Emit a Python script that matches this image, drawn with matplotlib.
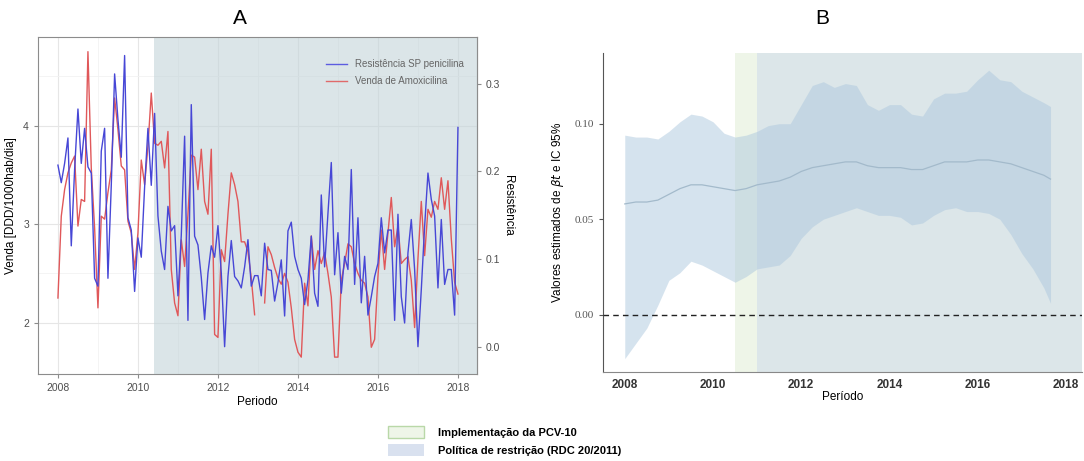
import numpy as np
import matplotlib
matplotlib.use("Agg")
import matplotlib.pyplot as plt
from matplotlib.patches import Patch
from matplotlib.lines import Line2D

plt.rcParams['font.family'] = ['Liberation Sans', 'DejaVu Sans']

# --- painel A: serie mensal 2008-01 .. 2018-01 ---
anos_mes = 2008 + np.arange(121) / 12

# venda de amoxicilina (DDD/1000hab/dia)
venda = [
    2.25, 3.08, 3.35, 3.52, 3.62, 3.69, 2.98, 3.25, 3.23, 4.75,
    3.57, 2.96, 2.15, 3.08, 3.05, 3.32, 3.55, 4.28, 3.96, 3.59,
    3.55, 3.03, 2.91, 2.54, 2.91, 3.65, 3.40, 3.79, 4.33, 3.82,
    3.80, 3.84, 3.57, 3.94, 2.54, 2.20, 2.07, 2.84, 2.57, 3.10,
    3.70, 3.68, 3.35, 3.76, 3.23, 3.10, 3.76, 1.88, 1.85, 2.74,
    2.62, 3.10, 3.52, 3.40, 3.23, 2.82, 2.82, 2.72, 2.45, 2.08,
    np.nan, np.nan, 2.20, 2.77, 2.69, 2.56, 2.45, 2.39, 2.50, 2.41,
    2.15, 1.83, 1.70, 1.65, 2.40, 2.17, 2.88, 2.54, 2.73, 2.60,
    2.71, 2.50, 2.26, 1.65, 1.65, 2.43, 2.60, 2.80, 2.77, 2.60,
    2.50, 2.43, 2.40, 2.26, 1.75, 1.83, 2.47, 2.94, 2.54, 2.91,
    3.27, 2.77, 2.98, 2.60, 2.64, 2.67, 2.43, 1.95, 2.65, 3.23,
    2.68, 3.15, 3.07, 3.23, 3.15, 3.47, 3.15, 3.44, 2.85, 2.41, 2.29,
]

# resistencia SP a penicilina (proporcao)
resist = [
    0.207, 0.187, 0.209, 0.238, 0.115, 0.202, 0.271, 0.209, 0.249, 0.205,
    0.198, 0.078, 0.069, 0.223, 0.249, 0.078, 0.184, 0.311, 0.259, 0.216,
    0.332, 0.147, 0.133, 0.063, 0.124, 0.102, 0.182, 0.249, 0.184, 0.266,
    0.149, 0.109, 0.088, 0.160, 0.132, 0.138, 0.058, 0.127, 0.240, 0.030,
    0.276, 0.126, 0.116, 0.079, 0.031, 0.084, 0.115, 0.102, 0.138, 0.084,
    0.000, 0.080, 0.121, 0.080, 0.075, 0.067, 0.091, 0.122, 0.069, 0.081,
    0.081, 0.058, 0.118, 0.088, 0.087, 0.052, 0.073, 0.099, 0.035, 0.132,
    0.142, 0.103, 0.088, 0.078, 0.048, 0.076, 0.126, 0.061, 0.046, 0.173,
    0.091, 0.152, 0.210, 0.082, 0.130, 0.061, 0.103, 0.088, 0.202, 0.071,
    0.147, 0.050, 0.103, 0.036, 0.057, 0.080, 0.095, 0.147, 0.107, 0.133,
    0.133, 0.030, 0.151, 0.057, 0.027, 0.107, 0.145, 0.088, 0.000, 0.065,
    0.137, 0.198, 0.168, 0.149, 0.067, 0.145, 0.071, 0.088, 0.088, 0.036, 0.250,
]

inicio_rdc = 2010.4

# escala secundaria: venda = a + b * resistencia
a_sec, b_sec = 1.756, 8.9

# --- painel B: coeficiente beta_t e IC 95% ---
anos_b = [2008.00, 2008.25, 2008.50, 2008.75, 2009.00, 2009.25, 2009.50, 2009.75,
          2010.00, 2010.25, 2010.50, 2010.75, 2011.00, 2011.25, 2011.50, 2011.75,
          2012.00, 2012.25, 2012.50, 2012.75, 2013.00, 2013.25, 2013.50, 2013.75,
          2014.00, 2014.25, 2014.50, 2014.75, 2015.00, 2015.25, 2015.50, 2015.75,
          2016.00, 2016.25, 2016.50, 2016.75, 2017.00, 2017.25, 2017.50, 2017.65]
beta_sup = [0.094, 0.093, 0.093, 0.092, 0.096, 0.101, 0.105, 0.104,
            0.101, 0.095, 0.093, 0.094, 0.096, 0.099, 0.100, 0.100,
            0.110, 0.120, 0.122, 0.119, 0.121, 0.120, 0.110, 0.107,
            0.110, 0.110, 0.105, 0.104, 0.113, 0.116, 0.116, 0.117,
            0.123, 0.128, 0.123, 0.122, 0.117, 0.114, 0.111, 0.109]
beta_med = [0.058, 0.059, 0.059, 0.060, 0.063, 0.066, 0.068, 0.068,
            0.067, 0.066, 0.065, 0.066, 0.068, 0.069, 0.070, 0.072,
            0.075, 0.077, 0.078, 0.079, 0.080, 0.080, 0.078, 0.077,
            0.077, 0.077, 0.076, 0.076, 0.078, 0.080, 0.080, 0.080,
            0.081, 0.081, 0.080, 0.079, 0.077, 0.075, 0.073, 0.071]
beta_inf = [-0.023, -0.015, -0.007, 0.005, 0.018, 0.022, 0.028, 0.026,
            0.023, 0.020, 0.017, 0.020, 0.024, 0.025, 0.026, 0.031,
            0.040, 0.046, 0.050, 0.052, 0.054, 0.056, 0.054, 0.052,
            0.052, 0.051, 0.047, 0.048, 0.052, 0.055, 0.056, 0.054,
            0.054, 0.053, 0.050, 0.042, 0.032, 0.024, 0.014, 0.006]

pcv10 = (2010.5, 2011.0)

cor_azul = '#4747d6'
cor_verm = '#e0585a'
cor_rdc = '#c3d4d9'
cor_pcv = '#eef5e8'
cinza = '#4d4d4d'

fig = plt.figure(figsize=(10.84, 4.61), dpi=100)

# ================= A =================
ax = fig.add_axes([0.035, 0.189, 0.405, 0.731])
ax.set_xlim(2007.5, 2018.475)
ax.set_ylim(1.48, 4.90)
ax.set_xticks([2008, 2010, 2012, 2014, 2016, 2018])
ax.set_xticks([2009, 2011, 2013, 2015, 2017], minor=True)
ax.set_yticks([2, 3, 4])
ax.set_yticks([2.5, 3.5, 4.5], minor=True)
ax.grid(True, which='major', color='#e6e6e6', lw=0.8)
ax.grid(True, which='minor', color='#f2f2f2', lw=0.6)
ax.set_axisbelow(True)
ax.axvspan(inicio_rdc, 2018.475, color=cor_rdc, alpha=0.6, lw=0, zorder=1)

resist_v = a_sec + b_sec * np.array(resist)
ax.plot(anos_mes, venda, color=cor_verm, lw=1.0, zorder=2)
ax.plot(anos_mes, resist_v, color=cor_azul, lw=1.0, zorder=3)

for s in ax.spines.values():
    s.set_color('#8c8c8c')
    s.set_linewidth(0.8)
ax.tick_params(which='major', length=3, color='#8c8c8c', labelsize=7.5, labelcolor=cinza)
ax.tick_params(which='minor', length=0)
ax.set_xlabel('Periodo', fontsize=8.5, labelpad=2)
ax.set_ylabel('Venda [DDD/1000hab/dia]', fontsize=8.5, labelpad=4)

sec = ax.secondary_yaxis('right', functions=(lambda v: (v - a_sec) / b_sec,
                                             lambda r: a_sec + b_sec * r))
sec.set_yticks([0.0, 0.1, 0.2, 0.3])
sec.set_yticklabels(['0.0', '0.1', '0.2', '0.3'])
sec.tick_params(length=3, color='#8c8c8c', labelsize=7.5, labelcolor=cinza)
sec.spines['right'].set_color('#8c8c8c')
sec.set_ylabel('Resistência', fontsize=8.5, rotation=270, labelpad=10)

leg_a = [Line2D([], [], color='#5c5ce0', lw=1.0, label='Resistência SP penicilina'),
         Line2D([], [], color='#e06a6a', lw=1.0, label='Venda de Amoxicilina')]
ax.legend(handles=leg_a, loc='upper right', bbox_to_anchor=(0.99, 0.96), frameon=False,
          fontsize=7, labelcolor='#666666', handlelength=2.2, labelspacing=0.7)

fig.text(240 / 1084, 1 - 18 / 461, 'A', fontsize=15, ha='center', va='center')

# ================= B =================
bx = fig.add_axes([0.556, 0.193, 0.442, 0.692])
bx.set_xlim(2007.5, 2018.36)
bx.set_ylim(-0.030, 0.137)
bx.axvspan(pcv10[0], pcv10[1], color=cor_pcv, lw=0, zorder=0)
bx.axvspan(pcv10[1], 2018.36, color='#dce6e9', lw=0, zorder=0)
bx.fill_between(anos_b, beta_inf, beta_sup, color='#adc8de', alpha=0.5, lw=0, zorder=1)
bx.plot(anos_b, beta_med, color='#a3bacb', lw=0.9, zorder=2)
bx.axhline(0, color='#222222', lw=1.0, ls=(0, (4, 3)), zorder=3)

bx.spines['top'].set_visible(False)
bx.spines['right'].set_visible(False)
bx.spines['left'].set_color('#555555')
bx.spines['bottom'].set_color('#888888')
bx.set_xticks([2008, 2010, 2012, 2014, 2016, 2018])
bx.set_yticks([0.00, 0.05, 0.10])
bx.set_yticklabels(['0.00', '0.05', '0.10'], family='Liberation Serif', color='#555555', fontsize=8)
for t in bx.get_xticklabels():
    t.set_fontweight('bold')
bx.tick_params(axis='x', length=0, labelsize=8.5, pad=5, labelcolor='#333333')
bx.tick_params(axis='y', length=3, color='#555555')
bx.set_xlabel('Período', fontsize=8.5, labelpad=0)
bx.set_ylabel(r'Valores estimados de $\beta t$ e IC 95%', fontsize=8.5, labelpad=6)

fig.text(822 / 1084, 1 - 18 / 461, 'B', fontsize=15, ha='center', va='center')

# legenda dos periodos de intervencao
leg_b = [Patch(facecolor=cor_pcv, edgecolor='#b9d8a8', lw=1.0, label='Implementação da PCV-10'),
         Patch(facecolor='#d9e1ef', edgecolor='none', label='Política de restrição (RDC 20/2011)')]
fig.legend(handles=leg_b, loc='upper left', bbox_to_anchor=(378 / 1084, 1 - 416 / 461),
           frameon=False, prop={'weight': 'bold', 'size': 8}, handlelength=3.2,
           handleheight=1.3, labelspacing=0.55, handletextpad=1.3)

fig.savefig('out.png', dpi=100)
